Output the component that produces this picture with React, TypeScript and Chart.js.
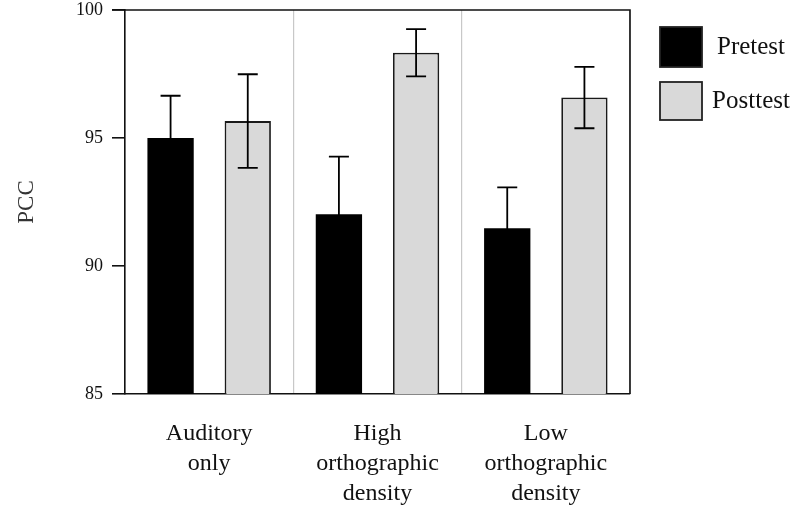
import React, { useEffect, useRef } from "react";
import { Chart, registerables } from "chart.js";

Chart.register(...registerables);

const categories: string[][] = [
  ["Auditory", "only"],
  ["High", "orthographic", "density"],
  ["Low", "orthographic", "density"],
];
const seriesNames = ["Pretest", "Posttest"];
const pretest = [95.0, 92.02, 91.47];
const posttest = [95.66, 98.33, 96.58];
const pretestErr = [1.65, 2.25, 1.6];
const posttestErr = [1.83, 0.92, 1.2];
const yTicks = [85, 90, 95, 100];

const FONT = '"Liberation Serif", "Times New Roman", serif';

const errorBarPlugin = {
  id: "errorBars",
  afterDatasetsDraw(chart: any) {
    const { ctx } = chart;
    const yScale = chart.scales.y;
    const errs = [pretestErr, posttestErr];
    ctx.save();
    ctx.strokeStyle = "#000";
    ctx.lineWidth = 1.8;
    chart.data.datasets.forEach((ds: any, i: number) => {
      const meta = chart.getDatasetMeta(i);
      meta.data.forEach((bar: any, j: number) => {
        const v = ds.data[j];
        const e = errs[i][j];
        const x = bar.x;
        const yTop = yScale.getPixelForValue(v + e);
        const yBot = yScale.getPixelForValue(v - e);
        const cap = 10;
        ctx.beginPath();
        ctx.moveTo(x, yTop);
        ctx.lineTo(x, yBot);
        ctx.moveTo(x - cap, yTop);
        ctx.lineTo(x + cap, yTop);
        ctx.moveTo(x - cap, yBot);
        ctx.lineTo(x + cap, yBot);
        ctx.stroke();
      });
    });
    ctx.restore();
  },
};

const frameLegendPlugin = {
  id: "frameLegend",
  afterDraw(chart: any) {
    const { ctx, chartArea } = chart;
    ctx.save();
    ctx.strokeStyle = "#111";
    ctx.lineWidth = 1.6;
    ctx.beginPath();
    ctx.moveTo(chartArea.left - 13, chartArea.top);
    ctx.lineTo(chartArea.right, chartArea.top);
    ctx.lineTo(chartArea.right, chartArea.bottom);
    ctx.stroke();
    const boxX = chartArea.right + 30;
    const boxW = 42;
    const rows = [
      { y: 27, h: 40 },
      { y: 82, h: 38 },
    ];
    chart.data.datasets.forEach((ds: any, i: number) => {
      const r = rows[i];
      ctx.fillStyle = ds.backgroundColor;
      ctx.fillRect(boxX, r.y, boxW, r.h);
      ctx.strokeStyle = "#222";
      ctx.lineWidth = 1.8;
      ctx.strokeRect(boxX, r.y, boxW, r.h);
      ctx.fillStyle = "#111";
      ctx.font = `25px ${FONT}`;
      ctx.textAlign = "center";
      ctx.textBaseline = "middle";
      ctx.fillText(ds.label, boxX + boxW + 49, r.y + r.h / 2);
    });
    ctx.restore();
  },
};

export default function App() {
  const ref = useRef<HTMLCanvasElement | null>(null);
  useEffect(() => {
    if (!ref.current) return;
    const chart = new Chart(ref.current, {
      type: "bar",
      data: {
        labels: categories,
        datasets: [
          {
            label: seriesNames[0],
            data: pretest,
            backgroundColor: "#000000",
            borderColor: "#000000",
            borderWidth: 0,
          },
          {
            label: seriesNames[1],
            data: posttest,
            backgroundColor: "#d9d9d9",
            borderColor: "#1a1a1a",
            borderWidth: 1.8,
          },
        ],
      },
      options: {
        responsive: false,
        animation: false,
        datasets: {
          bar: { categoryPercentage: 0.917, barPercentage: 0.6 },
        },
        layout: { padding: { left: 0, right: 169, top: 10, bottom: 0 } },
        plugins: {
          legend: { display: false },
          tooltip: { enabled: false },
        },
        scales: {
          x: {
            grid: {
              offset: true,
              color: "#c8c8c8",
              lineWidth: 1.2,
              drawTicks: false,
            },
            border: { color: "#111", width: 1.6 },
            ticks: {
              color: "#111",
              font: { family: FONT, size: 24, lineHeight: 1.25 },
              padding: 25,
              maxRotation: 0,
            },
            afterFit: (s: any) => {
              s.height = 118;
              s.paddingLeft = 0;
              s.paddingRight = 0;
            },
          },
          y: {
            min: 85,
            max: 100,
            afterBuildTicks: (s: any) => {
              s.ticks = yTicks.map((v) => ({ value: v }));
            },
            grid: {
              drawOnChartArea: false,
              color: "#111",
              lineWidth: 1.6,
              tickLength: 13,
            },
            border: { color: "#111", width: 1.6 },
            ticks: {
              color: "#111",
              font: { family: FONT, size: 18 },
              padding: 9,
            },
            title: {
              display: true,
              text: "PCC",
              color: "#333",
              font: { family: FONT, size: 23 },
              padding: { top: 13, bottom: 0 },
            },
            afterFit: (s: any) => {
              s.width = 125;
              s.paddingTop = 0;
              s.paddingBottom = 0;
            },
          },
        },
      },
      plugins: [errorBarPlugin, frameLegendPlugin],
    });
    return () => chart.destroy();
  }, []);
  return (
    <div style={{ position: "absolute", left: 0, top: 0, width: 799, height: 512, background: "#fff" }}>
      <canvas ref={ref} width={799} height={512} style={{ display: "block" }} />
    </div>
  );
}
